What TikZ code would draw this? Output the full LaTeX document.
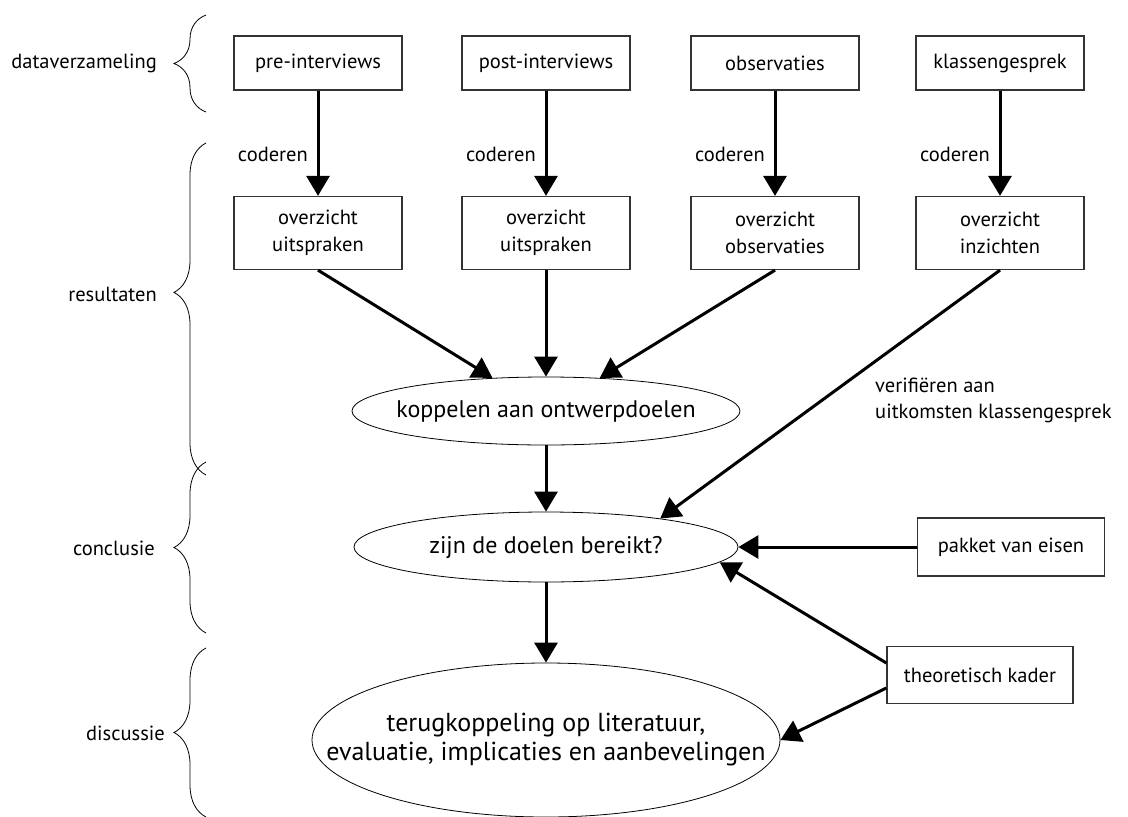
\documentclass[tikz,border=0pt]{standalone}
\usepackage{fontspec}
\setmainfont{PT Sans}
\usetikzlibrary{arrows.meta,shapes.geometric,decorations.pathreplacing}
\newcommand{\vrij}[1]{\makebox[0pt]{#1}}

\begin{document}
\begin{tikzpicture}[x=1pt,y=-1pt,
	blok/.style={draw=black!80, line width=1.3pt, minimum width=168pt, minimum height=54pt, inner sep=0pt, align=center, font=\fontsize{20.5}{27}\selectfont},
	ovaal/.style={draw, ellipse, line width=0.8pt, inner sep=0pt, font=\fontsize{24}{28}\selectfont},
	pijl/.style={line width=3pt, -{Triangle[length=20pt,width=23pt]}},
	tekst/.style={inner sep=0pt, align=left, font=\fontsize{20.5}{26}\selectfont},
	accolade/.style={decorate, decoration={brace, amplitude=32pt}, line width=0.8pt}]
		\useasboundingbox (0,0) rectangle (1128,817);
		% fasen links
		\draw[accolade] (206,112) -- (206,15);
		\draw[accolade,decoration={aspect=0.55}] (206,475) -- (206,143);
		\draw[accolade] (206,633) -- (206,462);
		\draw[accolade] (206,817) -- (206,648);
		\node[tekst,anchor=east] (fase1) at (157,63) {dataverzameling};
		\node[tekst,anchor=east] (fase2) at (157,294) {resultaten};
		\node[tekst,anchor=east] (fase3) at (155,548) {conclusie};
		\node[tekst,anchor=east] (fase4) at (165,733) {discussie};
		% bronnen
		\node[blok] (pre) at (318,63) {pre-interviews};
		\node[blok] (post) at (546,63) {post-interviews};
		\node[blok] (obs) at (775,63) {observaties};
		\node[blok] (klas) at (1000,63) {klassengesprek};
		\node[blok,minimum height=73pt] (ovpre) at (318,233) {overzicht\\uitspraken};
		\node[blok,minimum height=73pt] (ovpost) at (546,233) {overzicht\\uitspraken};
		\node[blok,minimum height=73pt] (ovobs) at (775,233) {overzicht\\observaties};
		\node[blok,minimum height=73pt] (ovklas) at (1000,233) {overzicht\\inzichten};
		\node[tekst,anchor=east] (cod1) at (308,154) {coderen};
		\node[tekst,anchor=east] (cod2) at (536,154) {coderen};
		\node[tekst,anchor=east] (cod3) at (765,154) {coderen};
		\node[tekst,anchor=east] (cod4) at (990,154) {coderen};
		% ovalen
		\node[ovaal,minimum width=388pt,minimum height=68pt] (koppel) at (546,411) {\vrij{koppelen aan ontwerpdoelen}};
		\node[ovaal,minimum width=384pt,minimum height=70pt] (doelen) at (546,547) {\vrij{zijn de doelen bereikt?}};
		\node[ovaal,minimum width=468pt,minimum height=154pt,font=\fontsize{26}{29}\selectfont] (terug) at (546,740) {\vrij{\begin{tabular}{@{}c@{}}terugkoppeling op literatuur,\\evaluatie, implicaties en aanbevelingen\end{tabular}}};
		\node[blok,minimum width=187pt,minimum height=58pt] (eisen) at (1011,547) {pakket van eisen};
		\node[blok,minimum width=186pt,minimum height=57pt] (kader) at (980,675) {theoretisch kader};
		\node[tekst,anchor=west] (verif) at (875,400) {verifiëren aan\\uitkomsten klassengesprek};
		% pijlen
		\draw[pijl] (pre) -- (ovpre);
		\draw[pijl] (post) -- (ovpost);
		\draw[pijl] (obs) -- (ovobs);
		\draw[pijl] (klas) -- (ovklas);
		\draw[pijl] (ovpre.south) -- (koppel);
		\draw[pijl] (ovpost.south) -- (koppel);
		\draw[pijl] (ovobs.south) -- (koppel);
		\draw[pijl] (ovklas.south) -- (doelen.14);
		\draw[pijl] (koppel) -- (doelen);
		\draw[pijl] (doelen) -- (terug);
		\draw[pijl] (eisen.west) -- (doelen);
		\draw[pijl] ([yshift=12pt]kader.west) -- (doelen.355);
		\draw[pijl] ([yshift=-13pt]kader.west) -- (terug.east);
\end{tikzpicture}
\end{document}
